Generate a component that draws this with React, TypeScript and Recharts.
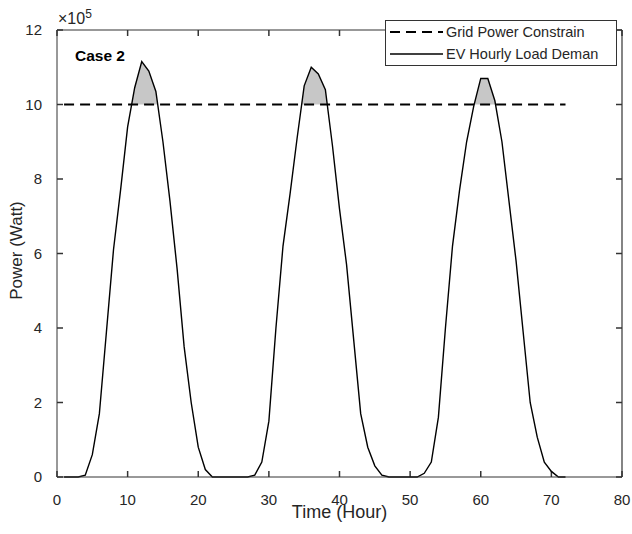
import React from "react";
import { ComposedChart, Line, Area, XAxis, YAxis, ReferenceArea, ReferenceLine, Legend } from "recharts";

// hourly EV load, in units of 10^5 W
const HOURS = [
  1, 2, 3, 4, 5, 6, 7, 8, 9, 10, 11, 12, 13, 14, 15, 16, 17, 18, 19, 20, 21, 22, 23, 24,
  25, 26, 27, 28, 29, 30, 31, 32, 33, 34, 35, 36, 37, 38, 39, 40, 41, 42, 43, 44, 45, 46, 47, 48,
  49, 50, 51, 52, 53, 54, 55, 56, 57, 58, 59, 60, 61, 62, 63, 64, 65, 66, 67, 68, 69, 70, 71, 72
];
const EV_LOAD = [
  0, 0, 0, 0.05, 0.6, 1.7, 3.9, 6.1, 7.7, 9.4, 10.45, 11.15, 10.9, 10.35, 9.0, 7.4, 5.6, 3.5, 2.0, 0.8, 0.2, 0, 0, 0,
  0, 0, 0, 0.05, 0.4, 1.5, 4.0, 6.2, 7.6, 9.1, 10.5, 11.0, 10.82, 10.4, 8.9, 7.2, 5.7, 3.7, 1.7, 0.8, 0.3, 0.05, 0, 0,
  0, 0, 0, 0.1, 0.4, 1.6, 4.0, 6.2, 7.7, 9.0, 9.95, 10.7, 10.7, 10.1, 9.0, 7.4, 5.8, 3.9, 2.0, 1.07, 0.4, 0.15, 0, 0
];
const GRID_LIMIT = 10;
const X_TICKS = [0, 10, 20, 30, 40, 50, 60, 70, 80];
const Y_TICKS = [0, 2, 4, 6, 8, 10, 12];

const rows = HOURS.map((hour, i) => ({ hour, load: EV_LOAD[i], limit: GRID_LIMIT }));

const FONT = "'Liberation Sans', Arial, sans-serif";
const AXIS = "#333333";
const TICK_LEN = 6;

const LEGEND_ORDER = ["limit", "load"];
const seriesStyle: Record<string, { dash?: string; width: number }> = {
  limit: { dash: "10 6", width: 2.2 },
  load: { width: 1.4 }
};

const LegendBox = ({ payload }: any) => {
  const items = (payload || [])
    .filter((e: any) => e.type !== "none" && LEGEND_ORDER.includes(e.dataKey))
    .sort((a: any, b: any) => LEGEND_ORDER.indexOf(a.dataKey) - LEGEND_ORDER.indexOf(b.dataKey));
  return (
    <div style={{
      width: 230,
      height: 44,
      border: `1px solid ${AXIS}`,
      background: "#fff",
      fontFamily: FONT,
      fontSize: 14.5,
      color: "#262626"
    }}>
      {items.map((entry: any) => {
        const s = seriesStyle[entry.dataKey];
        return (
          <div key={entry.dataKey} style={{ display: "flex", alignItems: "center", height: 22 }}>
            <svg width={60} height={22} style={{ display: "block" }}>
              <line x1={4} x2={57} y1={11} y2={11} stroke="#000" strokeWidth={s.width} strokeDasharray={s.dash} />
            </svg>
            <span style={{ whiteSpace: "nowrap" }}>{entry.value}</span>
          </div>
        );
      })}
    </div>
  );
};

// clip rect covering the band above the grid limit
const ClipBand = (p: any) => (
  <defs>
    <clipPath id="overLimit">
      <rect x={p.x} y={p.y} width={p.width} height={p.height} />
    </clipPath>
  </defs>
);

// inward ticks at both ends of a vertical / horizontal reference line
const VTicks = (p: any) => {
  const top = Math.min(p.y1, p.y2);
  const bottom = Math.max(p.y1, p.y2);
  return (
    <g>
      <line x1={p.x1} x2={p.x1} y1={top} y2={top + TICK_LEN} stroke={AXIS} strokeWidth={1.5} />
      <line x1={p.x1} x2={p.x1} y1={bottom} y2={bottom - TICK_LEN} stroke={AXIS} strokeWidth={1.5} />
    </g>
  );
};
const HTicks = (p: any) => {
  const left = Math.min(p.x1, p.x2);
  const right = Math.max(p.x1, p.x2);
  return (
    <g>
      <line x1={left} x2={left + TICK_LEN} y1={p.y1} y2={p.y1} stroke={AXIS} strokeWidth={1.5} />
      <line x1={right} x2={right - TICK_LEN} y1={p.y1} y2={p.y1} stroke={AXIS} strokeWidth={1.5} />
    </g>
  );
};

export default function App() {
  const tickStyle = { fill: "#262626", fontSize: 15, fontFamily: FONT };
  return (
    <div style={{ position: "absolute", left: 0, top: 0, width: 632, height: 534, background: "#fff" }}>
      <style>{`.over-limit { clip-path: url(#overLimit); }`}</style>
      <ComposedChart width={632} height={534} data={rows} margin={{ top: 30, right: 10, bottom: 0, left: 0 }}>
        <XAxis
          dataKey="hour"
          type="number"
          domain={[0, 80]}
          ticks={X_TICKS}
          height={57}
          stroke={AXIS}
          tickLine={false}
          tickMargin={11}
          tick={tickStyle}
          label={{
            content: ({ viewBox }: any) => (
              <text x={viewBox.x + viewBox.width / 2} y={viewBox.y + 41} textAnchor="middle"
                fill="#262626" fontSize={18} fontFamily={FONT}>Time (Hour)</text>
            )
          }}
        />
        <YAxis
          type="number"
          domain={[0, 12]}
          ticks={Y_TICKS}
          width={57}
          stroke={AXIS}
          tickLine={false}
          tickMargin={9}
          tick={tickStyle}
          label={{
            content: ({ viewBox }: any) => {
              const cx = viewBox.x + 16;
              const cy = viewBox.y + viewBox.height / 2 - 3;
              return (
                <text x={cx} y={cy} textAnchor="middle" dominantBaseline="central"
                  transform={`rotate(-90 ${cx} ${cy})`} fill="#262626" fontSize={17} fontFamily={FONT}>
                  Power (Watt)
                </text>
              );
            }
          }}
        />
        <ReferenceArea x1={0} x2={80} y1={GRID_LIMIT} y2={12} shape={ClipBand} />
        <ReferenceLine y={12} stroke={AXIS} strokeWidth={1.2} />
        <ReferenceLine x={80} stroke={AXIS} strokeWidth={1.2} />
        {X_TICKS.map((t) => (
          <ReferenceLine key={`xt${t}`} x={t} shape={VTicks} />
        ))}
        {Y_TICKS.map((t) => (
          <ReferenceLine key={`yt${t}`} y={t} shape={HTicks} />
        ))}
        <Line
          dataKey="limit"
          name="Grid Power Constrain"
          stroke="#000"
          strokeWidth={2.2}
          strokeDasharray="10 6"
          dot={false}
          activeDot={false}
          isAnimationActive={false}
        />
        <Area
          dataKey="load"
          className="over-limit"
          baseValue={0}
          fill="#bdbdbd"
          fillOpacity={0.85}
          stroke="none"
          legendType="none"
          isAnimationActive={false}
        />
        <Line
          dataKey="load"
          name="EV Hourly Load Deman"
          type="linear"
          stroke="#000"
          strokeWidth={1.4}
          dot={false}
          activeDot={false}
          isAnimationActive={false}
        />
        <Legend
          layout="vertical"
          align="center"
          verticalAlign="middle"
          content={<LegendBox />}
          wrapperStyle={{ top: 20, left: 385, width: 232, height: 46 }}
        />
      </ComposedChart>
      <div style={{ position: "absolute", left: 58, top: 7, fontFamily: FONT, fontSize: 16, color: "#262626" }}>
        ×10<sup style={{ fontSize: 12 }}>5</sup>
      </div>
      <div style={{ position: "absolute", left: 75, top: 47, fontFamily: FONT, fontSize: 15.5, fontWeight: 700, color: "#000" }}>
        Case 2
      </div>
    </div>
  );
}
